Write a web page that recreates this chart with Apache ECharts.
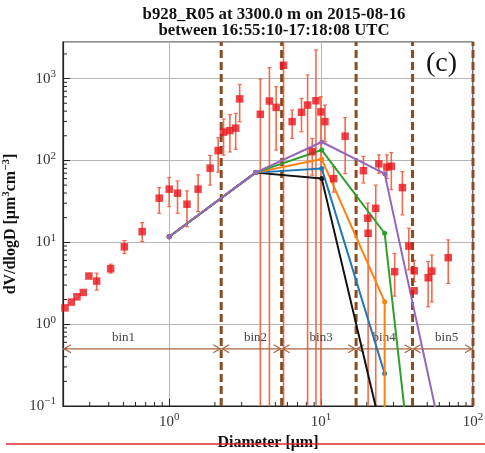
<!DOCTYPE html>
<html>
<head>
<meta charset="utf-8">
<script src="https://cdn.jsdelivr.net/npm/echarts@6/dist/echarts.min.js"></script>
<style>
  html, body { margin: 0; padding: 0; background: #fff; }
  #chart { width: 485px; height: 453px; }
</style>
</head>
<body>
<div id="chart"></div>
<script>
const FONT = '"Liberation Serif", "Times New Roman", serif';

// Measured volume size distribution: diameter [µm] and dV/dlogD
const diameter = [0.206, 0.227, 0.247, 0.272, 0.296, 0.333, 0.412, 0.507, 0.664, 0.86,
  1.0, 1.135, 1.31, 1.55, 1.86, 2.10, 2.28, 2.51, 2.74, 2.91,
  3.98, 4.57, 5.06, 5.66, 6.45, 7.43, 8.15, 8.75, 9.25, 9.97,
  10.6, 12.1, 14.4, 19.0, 20.3, 20.4, 22.9, 24.0, 27.1, 29.0,
  30.5, 34.3, 37.8, 41.0, 41.0, 50.7, 53.6, 68.7];
const dvdlogd = [1.58, 1.86, 2.16, 2.44, 3.87, 3.36, 4.75, 8.8, 13.5, 34.6,
  44.6, 39.8, 29.2, 44.6, 80.5, 132, 222, 232, 248, 565,
  367, 532, 445, 1455, 298, 388, 475, 128, 537, 392,
  298, 60, 198, 75, 19.7, 12.9, 26, 91, 83, 85,
  4.37, 46.6, 9.0, 4.49, 2.56, 3.69, 4.45, 6.49];
// Error bounds (0 = no lower bound, null = no bar)
const errLow = [null, null, null, null, null, 2.6, 4.2, 7.3, 10.2, 22.6,
  27.3, 22.6, 15.5, 23.7, 50, 72, 116, 127, 137, 297,
  0, 0, 134, 0, 186, 224, 0, 66, 0, 0,
  169, 41, 69, 53, 12, 0, 0, 70, 60, 44,
  2.2, 21.6, 4.6, 3.3, null, 1.63, 1.87, 3.15];
const errHigh = [null, null, null, null, null, 4.2, 5.4, 10.5, 17.4, 46.6,
  61.8, 56.2, 42.5, 66.7, 115, 189, 321, 363, 375, 850,
  990, 1360, 795, 2800, 412, 572, 1107, 186, 2240, 600,
  475, 84, 333, 112, 30, 20, 50, 117, 117, 125,
  7.3, 73, 14.8, 6.0, null, 5.8, 7.0, 10.7];

// Fitted curves
const fitPurpleX = [1.0, 3.7, 10.1, 26.2, 63];
const fitPurpleY = [11.7, 71, 168, 69, 0.037];
const fitGreenX  = [1.0, 3.7, 10.1, 26.2, 63];
const fitGreenY  = [11.7, 71, 134, 12.9, 0.000007];
const fitOrangeX = [1.0, 3.7, 10.1, 26.2, 26.2];
const fitOrangeY = [11.7, 71, 104, 1.88, 0.0001];
const fitBlueX   = [1.0, 3.7, 10.1, 26.2];
const fitBlueY   = [11.7, 71, 80, 0.25];
const fitBlackX  = [1.0, 3.7, 10.1, 26.2];
const fitBlackY  = [11.7, 71, 60, 0.034];

// Size bins
const binEdges  = [0.2, 2.2, 5.5, 17, 40, 100];
const binNames  = ['bin1', 'bin2', 'bin3', 'bin4', 'bin5'];
const binLabelX = [0.5, 3.7, 10, 26, 67];
const binArrowY = 0.5;
const binLabelY = 0.68;

const X_MIN = 0.2, X_MAX = 100, Y_MIN = 0.1, Y_MAX = 2800;

const xMinorTicks = [];
const yMinorTicks = [];
for (let e = -1; e <= 3; e++) {
  for (let k = 2; k <= 9; k++) {
    const v = k * Math.pow(10, e);
    if (v > X_MIN && v < X_MAX) xMinorTicks.push([v, Y_MIN]);
    if (v > Y_MIN && v < Y_MAX) yMinorTicks.push([X_MIN, v]);
  }
}

function powLabel(v) {
  const e = Math.log10(v);
  const r = Math.round(e);
  if (Math.abs(e - r) > 1e-6) return '';
  return '{b|10}{s|' + (r < 0 ? '\u2212' + (-r) : r) + '}';
}
const labelRich = {
  b: { fontFamily: FONT, fontSize: 15, color: '#333', lineHeight: 20 },
  s: { fontFamily: FONT, fontSize: 11, color: '#333', lineHeight: 6, verticalAlign: 'top' }
};

const chart = echarts.init(document.getElementById('chart'), null, { renderer: 'canvas' });

function fitSeries(xs, ys, color, z) {
  return {
    type: 'line', data: xs.map((x, i) => [x, ys[i]]),
    symbol: 'circle', symbolSize: 5, showSymbol: true,
    lineStyle: { color: color, width: 2 }, itemStyle: { color: color },
    clip: true, z: z, animation: false, silent: true
  };
}

const option = {
  animation: false,
  title: {
    text: 'b928_R05 at 3300.0 m on 2015-08-16\nbetween 16:55:10-17:18:08 UTC',
    left: 269, top: 2, textAlign: 'center',
    textStyle: { fontFamily: FONT, fontSize: 16.8, fontWeight: 'bold', color: '#111', lineHeight: 16 }
  },
  grid: {
    left: 63, right: 12, top: 42, bottom: 47,
    show: true, borderColor: '#222', borderWidth: 1.2, backgroundColor: 'transparent',
    outerBoundsMode: 'none'
  },
  xAxis: {
    type: 'log', logBase: 10, min: X_MIN, max: X_MAX,
    name: 'Diameter [\u03bcm]', nameLocation: 'middle', nameGap: 27,
    nameTextStyle: { fontFamily: FONT, fontSize: 16, fontWeight: 'bold', color: '#111' },
    axisLine: { show: true, lineStyle: { color: '#222', width: 1.2 } },
    axisTick: { show: true, inside: true, length: 7, lineStyle: { color: '#222' } },
    axisLabel: { formatter: powLabel, rich: labelRich, margin: 6, showMinLabel: false },
    splitLine: { show: true, lineStyle: { color: '#b5b5b5', width: 1 } }
  },
  yAxis: {
    type: 'log', logBase: 10, min: Y_MIN, max: Y_MAX,
    name: '{t|dV/dlogD [\u03bcm}{s|3}{t|cm}{s|\u22123}{t|]}',
    nameLocation: 'middle', nameGap: 38, nameRotate: 90,
    nameTextStyle: {
      rich: {
        t: { fontFamily: FONT, fontSize: 16, fontWeight: 'bold', color: '#111', lineHeight: 20 },
        s: { fontFamily: FONT, fontSize: 11, fontWeight: 'bold', color: '#111', lineHeight: 8, verticalAlign: 'top' }
      }
    },
    axisLine: { show: true, lineStyle: { color: '#222', width: 1.2 } },
    axisTick: { show: true, inside: true, length: 7, lineStyle: { color: '#222' } },
    axisLabel: { formatter: powLabel, rich: labelRich, margin: 7, showMaxLabel: false },
    splitLine: { show: true, lineStyle: { color: '#b5b5b5', width: 1 } }
  },
  graphic: [
    {
      type: 'text', left: 426, top: 50, z: 100,
      style: { text: '(c)', fontFamily: FONT, fontSize: 28, fill: '#111' }
    },
    {
      type: 'line', z: 100,
      shape: { x1: 6, y1: 444, x2: 485, y2: 444 },
      style: { stroke: '#e3262a', lineWidth: 1.5 }
    }
  ],
  series: [
    // minor ticks along the bottom axis
    {
      type: 'custom', data: xMinorTicks, silent: true, z: 3,
      renderItem: function (params, api) {
        const p = api.coord([api.value(0), api.value(1)]);
        return { type: 'line', shape: { x1: p[0], y1: p[1], x2: p[0], y2: p[1] - 4 },
          style: { stroke: '#222', lineWidth: 1 } };
      }
    },
    // minor ticks along the left axis
    {
      type: 'custom', data: yMinorTicks, silent: true, z: 3,
      renderItem: function (params, api) {
        const p = api.coord([api.value(0), api.value(1)]);
        return { type: 'line', shape: { x1: p[0], y1: p[1], x2: p[0] + 4, y2: p[1] },
          style: { stroke: '#222', lineWidth: 1 } };
      }
    },
    // error bars
    {
      type: 'custom', silent: true, z: 4, clip: true,
      encode: { x: 0, y: 2 },
      data: diameter.map((d, i) => [d, errLow[i], errHigh[i]]).filter(r => r[2] != null),
      renderItem: function (params, api) {
        const x = api.value(0);
        const lo = api.value(1), hi = api.value(2);
        const loClip = !(lo > Y_MIN);
        const hiClip = hi >= Y_MAX;
        const pLo = api.coord([x, loClip ? Y_MIN : lo]);
        const pHi = api.coord([x, hiClip ? Y_MAX : hi]);
        const stroke = '#f26a4e';
        const kids = [{ type: 'line', shape: { x1: pLo[0], y1: pLo[1], x2: pHi[0], y2: pHi[1] },
          style: { stroke: stroke, lineWidth: 1.6 } }];
        if (!hiClip) kids.push({ type: 'line', shape: { x1: pHi[0] - 2, y1: pHi[1], x2: pHi[0] + 2, y2: pHi[1] },
          style: { stroke: stroke, lineWidth: 1.2 } });
        if (!loClip) kids.push({ type: 'line', shape: { x1: pLo[0] - 2, y1: pLo[1], x2: pLo[0] + 2, y2: pLo[1] },
          style: { stroke: stroke, lineWidth: 1.2 } });
        return { type: 'group', children: kids };
      }
    },
    // bin boundaries
    {
      type: 'custom', silent: true, z: 5,
      data: binEdges.slice(1).map(v => [v, Y_MIN]),
      renderItem: function (params, api) {
        const a = api.coord([api.value(0), Y_MIN]);
        const b = api.coord([api.value(0), Y_MAX]);
        return { type: 'line', shape: { x1: a[0], y1: a[1], x2: b[0], y2: b[1] },
          style: { stroke: '#8c4b23', lineWidth: 3, lineDash: [8, 4] } };
      }
    },
    // bin extent arrows and names
    {
      type: 'custom', silent: true, z: 6,
      data: binNames.map((n, i) => [binEdges[i], binArrowY, binEdges[i + 1], binLabelX[i], binLabelY]),
      renderItem: function (params, api) {
        const a = api.coord([api.value(0), api.value(1)]);
        const b = api.coord([api.value(2), api.value(1)]);
        const t = api.coord([api.value(3), api.value(4)]);
        const c = '#a8653e';
        const y = a[1], h = 4, w = 8;
        return {
          type: 'group', children: [
            { type: 'line', shape: { x1: a[0], y1: y, x2: b[0], y2: y }, style: { stroke: c, lineWidth: 1.2 } },
            { type: 'polyline', shape: { points: [[a[0] + w, y - h], [a[0] + 1, y], [a[0] + w, y + h]] },
              style: { stroke: c, lineWidth: 1.2, fill: null } },
            { type: 'polyline', shape: { points: [[b[0] - w, y - h], [b[0] - 1, y], [b[0] - w, y + h]] },
              style: { stroke: c, lineWidth: 1.2, fill: null } },
            { type: 'text', x: t[0], y: t[1],
              style: { text: binNames[params.dataIndex], fontFamily: FONT, fontSize: 13, fill: '#444',
                align: 'center', verticalAlign: 'middle' } }
          ]
        };
      }
    },
    fitSeries(fitBlackX, fitBlackY, '#111111', 7),
    fitSeries(fitBlueX, fitBlueY, '#1f77b4', 8),
    fitSeries(fitOrangeX, fitOrangeY, '#ff7f0e', 9),
    fitSeries(fitGreenX, fitGreenY, '#2ca02c', 10),
    fitSeries(fitPurpleX, fitPurpleY, '#9467bd', 11),
    // measured points
    {
      type: 'scatter', silent: true, z: 12,
      data: diameter.map((d, i) => [d, dvdlogd[i]]),
      symbol: 'rect', symbolSize: 7.5,
      itemStyle: { color: '#e8141c' }
    }
  ]
};
chart.setOption(option);
</script>
</body>
</html>
